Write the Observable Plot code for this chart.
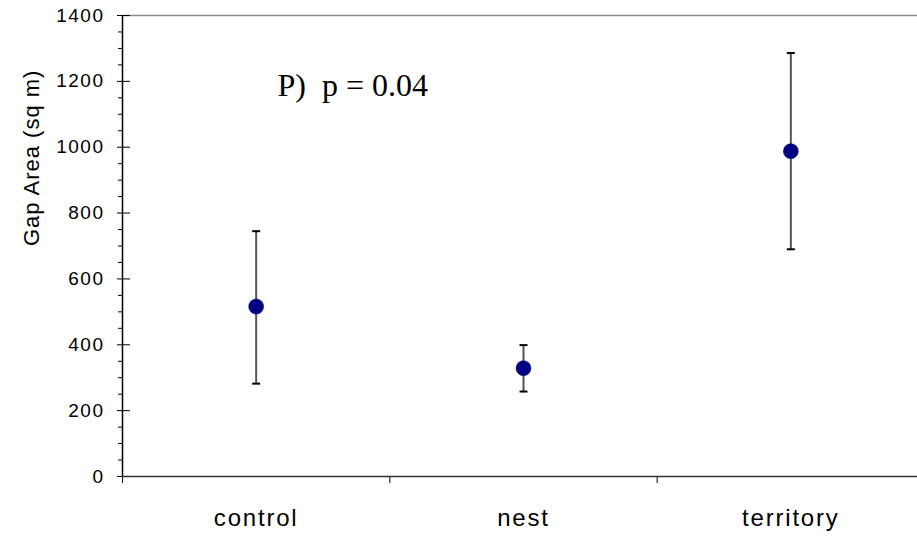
<!DOCTYPE html>
<html><head><meta charset="utf-8">
<script src="https://cdn.jsdelivr.net/npm/d3@7"></script>
<script src="https://cdn.jsdelivr.net/npm/@observablehq/plot@0.6"></script>
<style>body{margin:0;background:#fff;overflow:hidden}</style>
</head><body><div id="chart"></div>
<script>
const categories = ["control", "nest", "territory"];
const means = [516, 329, 988];
const upper = [745, 399, 1286];
const lower = [282, 258, 690];
const yMajorTicks = [0, 200, 400, 600, 800, 1000, 1200, 1400];
const yMinorTicks = [50, 100, 150, 250, 300, 350, 450, 500, 550, 650, 700, 750, 850, 900, 950, 1050, 1100, 1150, 1250, 1300, 1350];
const yLabel = "Gap Area (sq m)";
const annotation = ["P)  p = 0.04"];
const annotationX = [0.58];
const annotationY = [1187];

const rows = categories.map((c, i) => ({cat: c, pos: i + 0.5, mean: means[i], hi: upper[i], lo: lower[i]}));
const capSymbol = {draw(ctx) { ctx.moveTo(-4, 0); ctx.lineTo(4, 0); }};
const font = "'Liberation Sans', Arial, sans-serif";

const chart = Plot.plot({
  width: 917,
  height: 537,
  marginLeft: 122,
  marginTop: 15,
  marginBottom: 61,
  marginRight: 0,
  style: {fontFamily: font, background: "#fff", overflow: "visible"},
  x: {domain: [0, 3], range: [122, 924]},
  y: {domain: [0, 1400], range: [476, 15]},
  marks: [
    Plot.ruleY([1400], {x1: 0, x2: 3, stroke: "#888", strokeWidth: 1.5}),
    Plot.ruleX([0], {y1: 0, y2: 1400, stroke: "#000", strokeWidth: 1.5}),
    Plot.axisY({ticks: yMinorTicks, tickSize: 4, text: null, stroke: "#000"}),
    Plot.axisY({ticks: yMajorTicks, tickSize: 8, text: null, dx: 8, stroke: "#000"}),
    Plot.axisY({ticks: yMajorTicks, tickSize: 5, tickPadding: 13, fontSize: 19, label: null, fill: "#000", tickFormat: d3.format("d")}),
    Plot.axisX({ticks: [0, 1, 2, 3], tickSize: 7, text: null, stroke: "#000", label: null}),
    Plot.axisX({ticks: [0.5, 1.5, 2.5], tickSize: 0, tickPadding: 32, fontSize: 24, label: null, fill: "#000",
      tickFormat: d => categories[Math.floor(d)]}),
    Plot.ruleY([0], {x1: 0, x2: 3, stroke: "#333", strokeWidth: 1.5}),
    Plot.text([yLabel], {frameAnchor: "left", rotate: -90, dx: -91, fontSize: 22, fill: "#000", text: d => d}),
    Plot.text(annotation, {x: annotationX, y: annotationY, text: d => d, textAnchor: "start", lineAnchor: "middle",
      fontFamily: "'Liberation Serif', 'Times New Roman', serif", fontSize: 32, fill: "#000"}),
    Plot.ruleX(rows, {x: "pos", y1: "lo", y2: "hi", stroke: "#555", strokeWidth: 2}),
    Plot.dot(rows, {x: "pos", y: "hi", symbol: capSymbol, stroke: "#000", strokeWidth: 2, r: 4}),
    Plot.dot(rows, {x: "pos", y: "lo", symbol: capSymbol, stroke: "#000", strokeWidth: 2, r: 4}),
    Plot.dot(rows, {x: "pos", y: "mean", r: 7.5, fill: "#000080", stroke: "#000080", strokeWidth: 0.5})
  ]
});
document.getElementById("chart").appendChild(chart);
const svg = d3.select(chart);
svg.selectAll("g[aria-label='y-axis tick label'] text").style("letter-spacing", "1.5px");
svg.selectAll("g[aria-label='x-axis tick label'] text").style("letter-spacing", "1.8px");
svg.selectAll("g[aria-label='text'] text").filter(function() { return this.textContent === yLabel; }).style("letter-spacing", "1px");
</script>
</body></html>
